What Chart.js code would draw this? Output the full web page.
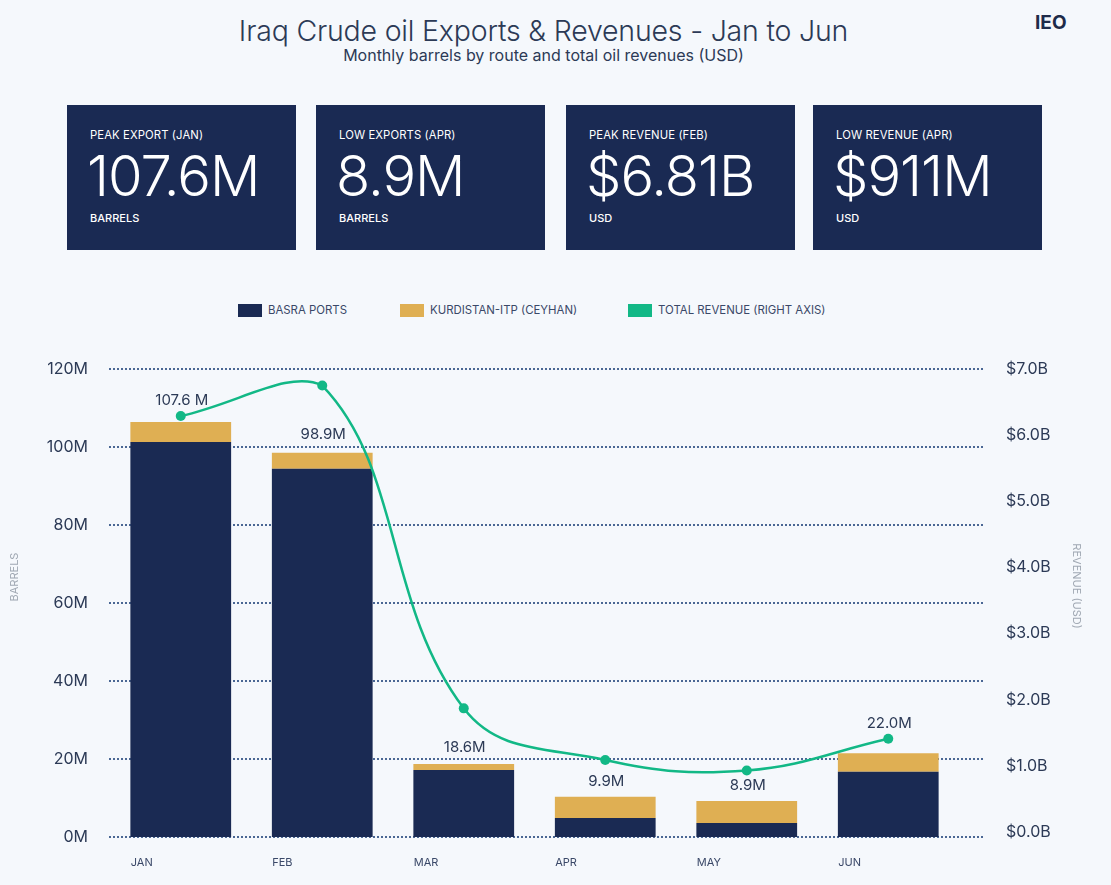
<!DOCTYPE html>
<html>
<head>
<meta charset="utf-8">
<script src="https://cdn.jsdelivr.net/npm/chart.js@4"></script>
<style>
  html, body { margin: 0; padding: 0; }
  body {
    width: 1111px; height: 885px; position: relative; overflow: hidden;
    background: #f5f8fc; font-family: Inter, "Noto Sans", sans-serif; color: #2c3a56;
  }
  .title { position: absolute; left: 0; width: 1087px; top: 13px; text-align: center;
    font-size: 28.5px; font-weight: 300; color: #2c3a56; letter-spacing: -0.2px; }
  .subtitle { position: absolute; left: 0; width: 1087px; top: 45px; text-align: center;
    font-size: 16px; color: #2c3a56; }
  .brand { position: absolute; left: 1035px; top: 11px; font-size: 19px; font-weight: 700; color: #1e2b4a; }
  .card { position: absolute; top: 105px; width: 229px; height: 145px; background: #1a2a53; color: #fff; }
  .card .k { position: absolute; left: 23px; top: 23px; font-size: 11.3px; letter-spacing: 0.1px; }
  .card .v { position: absolute; left: 20px; top: 37px; font-size: 56px; font-weight: 300; letter-spacing: -1px; }
  .card .u { position: absolute; left: 23px; top: 106px; font-size: 11px; font-weight: 500; }
  .legend { position: absolute; top: 305px; left: 238px; font-size: 11.4px; color: #3a4868; }
  .legend span.item { position: absolute; white-space: nowrap; }
  .legend i { position: absolute; top: -1px; width: 24px; height: 13px; }
  .legend b { position: absolute; left: 30px; top: -2px; font-weight: 400; }
  #wrap { position: absolute; left: 0; top: 340px; width: 1111px; height: 545px; }
</style>
</head>
<body>
<div class="title">Iraq Crude oil Exports &amp; Revenues - Jan to Jun</div>
<div class="subtitle">Monthly barrels by route and total oil revenues (USD)</div>
<div class="brand">IEO</div>

<div class="card" style="left:67px"><div class="k">PEAK EXPORT (JAN)</div><div class="v">107.6M</div><div class="u">BARRELS</div></div>
<div class="card" style="left:316px"><div class="k">LOW EXPORTS (APR)</div><div class="v">8.9M</div><div class="u">BARRELS</div></div>
<div class="card" style="left:566px"><div class="k">PEAK REVENUE (FEB)</div><div class="v">$6.81B</div><div class="u">USD</div></div>
<div class="card" style="left:813px"><div class="k">LOW REVENUE (APR)</div><div class="v">$911M</div><div class="u">USD</div></div>

<div class="legend">
  <span class="item" style="left:0"><i style="background:#1a2a53"></i><b>BASRA PORTS</b></span>
  <span class="item" style="left:162px"><i style="background:#dfaf53"></i><b>KURDISTAN-ITP (CEYHAN)</b></span>
  <span class="item" style="left:390px"><i style="background:#12b886"></i><b>TOTAL REVENUE (RIGHT AXIS)</b></span>
</div>

<div id="wrap"><canvas id="oilChart"></canvas></div>

<script>
// дані (млн барелів, млрд USD)
const months = ['JAN', 'FEB', 'MAR', 'APR', 'MAY', 'JUN'];
const basraPorts = [101.3, 94.4, 17.2, 4.9, 3.6, 16.7];
const kurdistanItp = [5.1, 4.1, 1.5, 5.4, 5.6, 4.8];
const totalRevenue = [6.29, 6.75, 1.87, 1.09, 0.93, 1.41];
const totalValues = [107.6, 98.9, 18.6, 9.9, 8.9, 22.0];
const totalLabels = ['107.6 M', '98.9M', '18.6M', '9.9M', '8.9M', '22.0M'];
const barrelTicks = [0, 20, 40, 60, 80, 100, 120];
const revenueTicks = [0, 1, 2, 3, 4, 5, 6, 7];

const NAVY = '#1a2a53';
const GOLD = '#dfaf53';
const GREEN = '#12b886';
const TEXT = '#2c3a56';
const MUTED = '#a0a8b3';

// пунктирна сітка, ширша за область графіка
const dottedGrid = {
    id: 'dottedGrid',
    beforeDatasetsDraw(chart) {
        const { ctx, chartArea } = chart;
        const y = chart.scales.y;
        ctx.save();
        ctx.strokeStyle = '#4a6794';
        ctx.lineWidth = 2;
        ctx.setLineDash([2, 2]);
        y.ticks.forEach(t => {
            const py = Math.round(y.getPixelForValue(t.value));
            ctx.beginPath();
            ctx.moveTo(chartArea.left - 1, py);
            ctx.lineTo(chartArea.right + 24, py);
            ctx.stroke();
        });
        ctx.restore();
    }
};

// підписи сумарних обсягів над стовпцями + назви осей
const totalsLabels = {
    id: 'totalsLabels',
    afterDatasetsDraw(chart) {
        const { ctx, chartArea } = chart;
        const y = chart.scales.y;
        const bars = chart.getDatasetMeta(1).data;
        const points = chart.getDatasetMeta(2).data;
        ctx.save();
        ctx.font = '15px Inter, sans-serif';
        ctx.fillStyle = TEXT;
        ctx.textAlign = 'center';
        ctx.textBaseline = 'middle';
        bars.forEach((bar, i) => {
            let ly = y.getPixelForValue(totalValues[i]) - 17;
            // якщо підпис налазить на точку лінії — піднімаємо над нею
            const gap = points[i].y - ly;
            if (gap >= 0 && gap < 12) ly = points[i].y - 15;
            ctx.fillText(totalLabels[i], bar.x + 1, ly);
        });

        // назви осей (трохи вище центру, як в оригіналі)
        ctx.font = '11px Inter, sans-serif';
        ctx.fillStyle = MUTED;
        const mid = (chartArea.top + chartArea.bottom) / 2;
        ctx.save();
        ctx.translate(15, mid - 26);
        ctx.rotate(-Math.PI / 2);
        ctx.fillText('BARRELS', 0, 0);
        ctx.restore();
        ctx.save();
        ctx.translate(1076, mid - 17);
        ctx.rotate(Math.PI / 2);
        ctx.fillText('REVENUE (USD)', 0, 0);
        ctx.restore();
        ctx.restore();
    }
};

// фіксована ширина осі без зайвих відступів зверху/знизу
function fixAxis(width) {
    return s => {
        s.width = width;
        s.paddingTop = 0;
        s.paddingBottom = 0;
    };
}

new Chart(document.getElementById('oilChart'), {
    data: {
        labels: months,
        datasets: [
            { type: 'bar', label: 'BASRA PORTS', data: basraPorts, backgroundColor: NAVY, yAxisID: 'y', order: 1 },
            { type: 'bar', label: 'KURDISTAN-ITP (CEYHAN)', data: kurdistanItp, backgroundColor: GOLD, yAxisID: 'y', order: 1 },
            {
                type: 'line', label: 'TOTAL REVENUE (RIGHT AXIS)', data: totalRevenue, yAxisID: 'y1', order: 0,
                borderColor: GREEN, backgroundColor: GREEN, borderWidth: 2.5, tension: 0.4,
                pointRadius: 5, pointBackgroundColor: GREEN, pointBorderWidth: 0
            }
        ]
    },
    options: {
        responsive: true,
        maintainAspectRatio: false,
        animation: false,
        layout: { padding: { top: 29, bottom: 0, left: 0, right: 0 } },
        datasets: { bar: { categoryPercentage: 1, barPercentage: 0.712 } },
        plugins: { legend: { display: false }, tooltip: { enabled: false } },
        scales: {
            x: {
                stacked: true,
                grid: { display: false, drawTicks: false },
                border: { display: false },
                ticks: { align: 'start', labelOffset: -50, padding: 19, color: '#3a4868', font: { family: 'Inter', size: 11 } },
                afterFit: s => { s.height = 48; s.paddingLeft = 0; s.paddingRight = 0; }
            },
            y: {
                stacked: true,
                position: 'left',
                min: 0, max: 120,
                afterBuildTicks: s => { s.ticks = barrelTicks.map(v => ({ value: v })); },
                grid: { display: false, drawTicks: false },
                border: { display: false },
                ticks: { padding: 22, color: TEXT, font: { family: 'Inter', size: 16 }, callback: v => v + 'M' },
                afterFit: fixAxis(110)
            },
            y1: {
                position: 'right',
                min: -0.075, max: 7,
                afterBuildTicks: s => { s.ticks = revenueTicks.map(v => ({ value: v })); },
                grid: { display: false, drawTicks: false },
                border: { display: false },
                ticks: {
                    padding: 47, crossAlign: 'near', color: TEXT, font: { family: 'Inter', size: 16 },
                    callback: v => '$' + v.toFixed(1) + 'B'
                },
                afterFit: fixAxis(152)
            }
        }
    },
    plugins: [dottedGrid, totalsLabels]
});
</script>
</body>
</html>
